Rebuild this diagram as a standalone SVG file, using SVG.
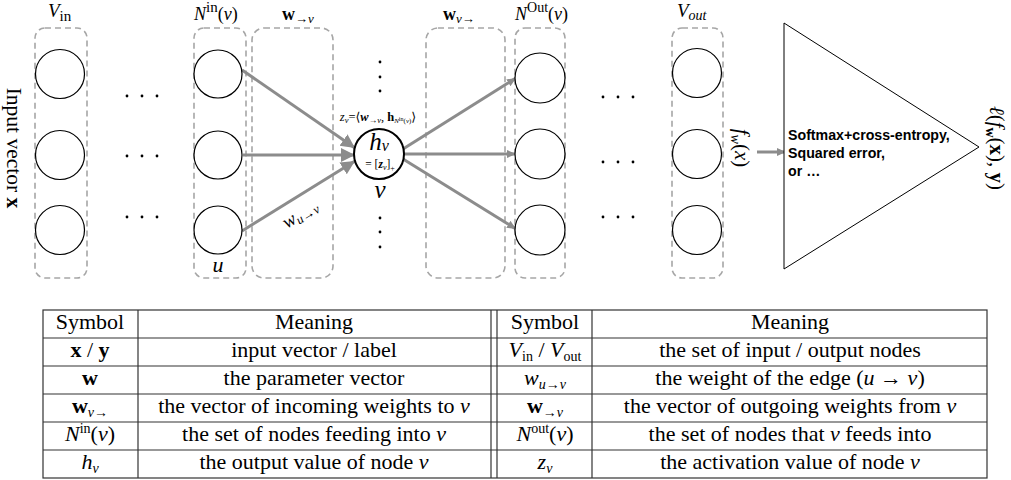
<svg xmlns="http://www.w3.org/2000/svg" width="1011" height="480" viewBox="0 0 1011 480">
<style>
  .box{fill:none;stroke:#a6a6a6;stroke-width:1.6;stroke-dasharray:6 4}
  .nd{fill:#fff;stroke:#000;stroke-width:1.2}
  .cn{stroke:#8c8c8c;stroke-width:3;fill:none}
  .m{font-family:"Liberation Serif","DejaVu Serif",serif;fill:#000}
  .i{font-style:italic}
  .b{font-weight:bold}
  .dot{fill:#000}
  .tl{stroke:#333;stroke-width:1.2;fill:none}
  .tt{font-family:"Liberation Serif","Times New Roman",serif;font-size:22px;fill:#000;text-anchor:middle}
  .sans{font-family:"Liberation Sans",Arial,sans-serif;font-weight:bold;font-size:14.2px;fill:#000}
</style>
<defs>
  <marker id="big" markerUnits="userSpaceOnUse" markerWidth="16" markerHeight="16" refX="14" refY="8" orient="auto">
    <path d="M0,1 L14,8 L0,15 z" fill="#8c8c8c"/>
  </marker>
  <marker id="sm" markerUnits="userSpaceOnUse" markerWidth="10" markerHeight="10" refX="9" refY="5" orient="auto">
    <path d="M0,1 L9,5 L0,9 z" fill="#8c8c8c"/>
  </marker>
</defs>

<!-- dashed groups -->
<g id="groups">
  <rect id="g-vin" class="box" x="35" y="28" width="52" height="250" rx="10"/>
  <rect id="g-nin" class="box" x="194" y="28" width="52" height="250" rx="10"/>
  <rect id="g-win" class="box" x="252" y="28" width="81" height="250" rx="12"/>
  <rect id="g-wout" class="box" x="426" y="28" width="79" height="250" rx="12"/>
  <rect id="g-nout" class="box" x="515" y="28" width="50" height="250" rx="10"/>
  <rect id="g-vout" class="box" x="672" y="28" width="51" height="250" rx="10"/>
</g>

<!-- connectors -->
<g id="connectors">
  <line class="cn" x1="242" y1="70" x2="355" y2="148" marker-end="url(#big)"/>
  <line class="cn" x1="243" y1="155" x2="355" y2="155" marker-end="url(#big)"/>
  <line class="cn" x1="242" y1="231" x2="355" y2="161" marker-end="url(#big)"/>
  <line class="cn" x1="403" y1="149" x2="516" y2="78" marker-end="url(#sm)"/>
  <line class="cn" x1="404" y1="154" x2="516" y2="154" marker-end="url(#sm)"/>
  <line class="cn" x1="403" y1="159" x2="516" y2="229" marker-end="url(#sm)"/>
  <line class="cn" x1="757" y1="152" x2="786" y2="152" marker-end="url(#sm)"/>
</g>

<!-- input layer -->
<g id="vin">
  <circle class="nd" cx="60" cy="74" r="24.5"/>
  <circle class="nd" cx="60" cy="155" r="24.5"/>
  <circle class="nd" cx="60" cy="230" r="24.5"/>
  <text class="m" x="48" y="17" font-size="19"><tspan class="i">V</tspan><tspan font-size="15" dy="4">in</tspan></text>
</g>
<g id="input-label">
  <text class="m" font-size="21.5" text-anchor="middle" transform="translate(7,148) rotate(90)">Input vector <tspan class="b">x</tspan></text>
</g>
<g id="dots-left">
  <circle class="dot" cx="127" cy="96" r="1.4"/><circle class="dot" cx="142" cy="96" r="1.4"/><circle class="dot" cx="157" cy="96" r="1.4"/>
  <circle class="dot" cx="127" cy="156" r="1.4"/><circle class="dot" cx="142" cy="156" r="1.4"/><circle class="dot" cx="157" cy="156" r="1.4"/>
  <circle class="dot" cx="127" cy="217" r="1.4"/><circle class="dot" cx="142" cy="217" r="1.4"/><circle class="dot" cx="157" cy="217" r="1.4"/>
</g>
<g id="nin">
  <circle class="nd" cx="218" cy="74" r="24"/>
  <circle class="nd" cx="218" cy="155" r="24"/>
  <circle class="nd" cx="218" cy="230" r="24"/>
  <text class="m" x="194" y="20" font-size="18"><tspan class="i">N</tspan><tspan font-size="15" dy="-8">in</tspan><tspan dy="8" font-size="18">(<tspan class="i">v</tspan>)</tspan></text>
  <text class="m i" x="218" y="272" font-size="22" text-anchor="middle">u</text>
</g>
<g id="w-in-label">
  <text class="m b" x="282" y="20" font-size="18">w<tspan font-size="13" font-weight="normal" dy="3">→<tspan class="i">v</tspan></tspan></text>
  <text class="m" font-size="19" transform="translate(287,229) rotate(-32)"><tspan class="i">w</tspan><tspan class="i" font-size="13" dy="3">u</tspan><tspan font-size="13">→</tspan><tspan class="i" font-size="13">v</tspan></text>
</g>
<g id="w-out-label">
  <text class="m b" x="443" y="20" font-size="18">w<tspan font-size="13" font-weight="normal" dy="3" class="i">v</tspan><tspan font-size="13" font-weight="normal">→</tspan></text>
</g>

<!-- central node -->
<g id="node-v">
  <circle cx="379" cy="154" r="25" fill="#fff" stroke="#000" stroke-width="2"/>
  <text class="m" x="379" y="150" font-size="25" text-anchor="middle"><tspan class="i">h</tspan><tspan class="i" font-size="16" dy="1">v</tspan></text>
  <text class="m" x="380" y="168" font-size="11.5" text-anchor="middle">= [<tspan class="i b">z</tspan><tspan class="i" font-size="8" dy="2">v</tspan><tspan dy="-2">]</tspan><tspan font-size="8" dy="3">+</tspan></text>
  <text class="m i" x="380" y="198" font-size="25" text-anchor="middle">v</text>
  <text class="m" x="378" y="121" font-size="12.5" text-anchor="middle"><tspan class="i">z</tspan><tspan class="i" font-size="8.5" dy="2">v</tspan><tspan dy="-2">=⟨</tspan><tspan class="i b">w</tspan><tspan font-size="8.5" dy="2">→</tspan><tspan class="i" font-size="8.5">v</tspan><tspan dy="-2">, </tspan><tspan class="b">h</tspan><tspan class="i" font-size="7" dy="2">N</tspan><tspan font-size="6" dy="-2">in</tspan><tspan font-size="7" dy="2">(</tspan><tspan class="i" font-size="7">v</tspan><tspan font-size="7">)</tspan><tspan dy="-2">⟩</tspan></text>
  <circle class="dot" cx="380" cy="62" r="1.4"/><circle class="dot" cx="380" cy="77" r="1.4"/><circle class="dot" cx="380" cy="91" r="1.4"/>
  <circle class="dot" cx="380" cy="218" r="1.4"/><circle class="dot" cx="380" cy="232" r="1.4"/><circle class="dot" cx="380" cy="247" r="1.4"/>
</g>

<g id="nout">
  <circle class="nd" cx="540" cy="78" r="25"/>
  <circle class="nd" cx="540" cy="154" r="25"/>
  <circle class="nd" cx="540" cy="230" r="25"/>
  <text class="m" x="515" y="20" font-size="18"><tspan class="i">N</tspan><tspan font-size="14" dy="-8">Out</tspan><tspan dy="8" font-size="18">(<tspan class="i">v</tspan>)</tspan></text>
</g>
<g id="dots-right">
  <circle class="dot" cx="603" cy="97" r="1.4"/><circle class="dot" cx="618" cy="97" r="1.4"/><circle class="dot" cx="633" cy="97" r="1.4"/>
  <circle class="dot" cx="603" cy="162" r="1.4"/><circle class="dot" cx="618" cy="162" r="1.4"/><circle class="dot" cx="633" cy="162" r="1.4"/>
  <circle class="dot" cx="603" cy="217" r="1.4"/><circle class="dot" cx="618" cy="217" r="1.4"/><circle class="dot" cx="633" cy="217" r="1.4"/>
</g>
<g id="vout">
  <circle class="nd" cx="697" cy="73" r="24.5"/>
  <circle class="nd" cx="697" cy="154" r="24.5"/>
  <circle class="nd" cx="697" cy="230" r="24.5"/>
  <text class="m" x="677" y="17" font-size="19"><tspan class="i">V</tspan><tspan class="i" font-size="14" dy="3">out</tspan></text>
  <text class="m" font-size="21" text-anchor="middle" transform="translate(735,148) rotate(90)"><tspan class="i">f</tspan><tspan class="i" font-size="14" dy="4">w</tspan><tspan dy="-4">(</tspan><tspan class="i">x</tspan><tspan>)</tspan></text>
</g>

<g id="loss">
  <polygon points="784,23 784,269 979,147" fill="#fff" stroke="#000" stroke-width="1"/>
  <text class="sans" x="788" y="140">Softmax+cross-entropy,</text>
  <text class="sans" x="788" y="158">Squared error,</text>
  <text class="sans" x="788" y="176">or …</text>
  <text class="m" font-size="21" text-anchor="middle" transform="translate(990,148) rotate(90)"><tspan class="i">ℓ</tspan>(<tspan class="i">f</tspan><tspan class="b" font-size="14" dy="4">w</tspan><tspan dy="-4">(</tspan><tspan class="b">x</tspan>), <tspan class="b">y</tspan>)</text>
</g>

<!-- table -->
<g id="table">
  <rect class="tl" x="43" y="310" width="944" height="168"/>
  <line class="tl" x1="43" y1="338" x2="987" y2="338"/>
  <line class="tl" x1="43" y1="366" x2="987" y2="366"/>
  <line class="tl" x1="43" y1="394" x2="987" y2="394"/>
  <line class="tl" x1="43" y1="422" x2="987" y2="422"/>
  <line class="tl" x1="43" y1="450" x2="987" y2="450"/>
  <line class="tl" x1="138" y1="310" x2="138" y2="478"/>
  <line class="tl" x1="491" y1="310" x2="491" y2="478"/>
  <line class="tl" x1="497" y1="310" x2="497" y2="478"/>
  <line class="tl" x1="592" y1="310" x2="592" y2="478"/>

  <text class="tt" x="90" y="329">Symbol</text>
  <text class="tt" x="314" y="329">Meaning</text>
  <text class="tt" x="545" y="329">Symbol</text>
  <text class="tt" x="790" y="329">Meaning</text>

  <text class="tt" x="90" y="357"><tspan font-weight="bold">x</tspan> / <tspan font-weight="bold">y</tspan></text>
  <text class="tt" x="314" y="357">input vector / label</text>
  <text class="tt" x="545" y="357"><tspan font-style="italic">V</tspan><tspan font-size="14" dy="4">in</tspan><tspan dy="-4"> / </tspan><tspan font-style="italic">V</tspan><tspan font-size="14" dy="4">out</tspan></text>
  <text class="tt" x="790" y="357">the set of input / output nodes</text>

  <text class="tt" x="90" y="385" font-weight="bold">w</text>
  <text class="tt" x="314" y="385">the parameter vector</text>
  <text class="tt" x="545" y="385"><tspan font-style="italic">w</tspan><tspan font-size="14" dy="4" font-style="italic">u</tspan><tspan font-size="14">→</tspan><tspan font-size="14" font-style="italic">v</tspan></text>
  <text class="tt" x="790" y="385">the weight of the edge (<tspan font-style="italic">u</tspan> → <tspan font-style="italic">v</tspan>)</text>

  <text class="tt" x="90" y="413"><tspan font-weight="bold">w</tspan><tspan font-size="14" dy="4" font-style="italic">v</tspan><tspan font-size="14">→</tspan></text>
  <text class="tt" x="314" y="413">the vector of incoming weights to <tspan font-style="italic">v</tspan></text>
  <text class="tt" x="545" y="413"><tspan font-weight="bold">w</tspan><tspan font-size="14" dy="4">→</tspan><tspan font-size="14" font-style="italic">v</tspan></text>
  <text class="tt" x="790" y="413">the vector of outgoing weights from <tspan font-style="italic">v</tspan></text>

  <text class="tt" x="90" y="441"><tspan font-style="italic">N</tspan><tspan font-size="14" dy="-8">in</tspan><tspan dy="8">(</tspan><tspan font-style="italic">v</tspan>)</text>
  <text class="tt" x="314" y="441">the set of nodes feeding into <tspan font-style="italic">v</tspan></text>
  <text class="tt" x="545" y="441"><tspan font-style="italic">N</tspan><tspan font-size="14" dy="-8">out</tspan><tspan dy="8">(</tspan><tspan font-style="italic">v</tspan>)</text>
  <text class="tt" x="790" y="441">the set of nodes that <tspan font-style="italic">v</tspan> feeds into</text>

  <text class="tt" x="90" y="469"><tspan font-style="italic">h</tspan><tspan font-size="14" dy="4" font-style="italic">v</tspan></text>
  <text class="tt" x="314" y="469">the output value of node <tspan font-style="italic">v</tspan></text>
  <text class="tt" x="545" y="469"><tspan font-style="italic">z</tspan><tspan font-size="14" dy="4" font-style="italic">v</tspan></text>
  <text class="tt" x="790" y="469">the activation value of node <tspan font-style="italic">v</tspan></text>
</g>
</svg>
